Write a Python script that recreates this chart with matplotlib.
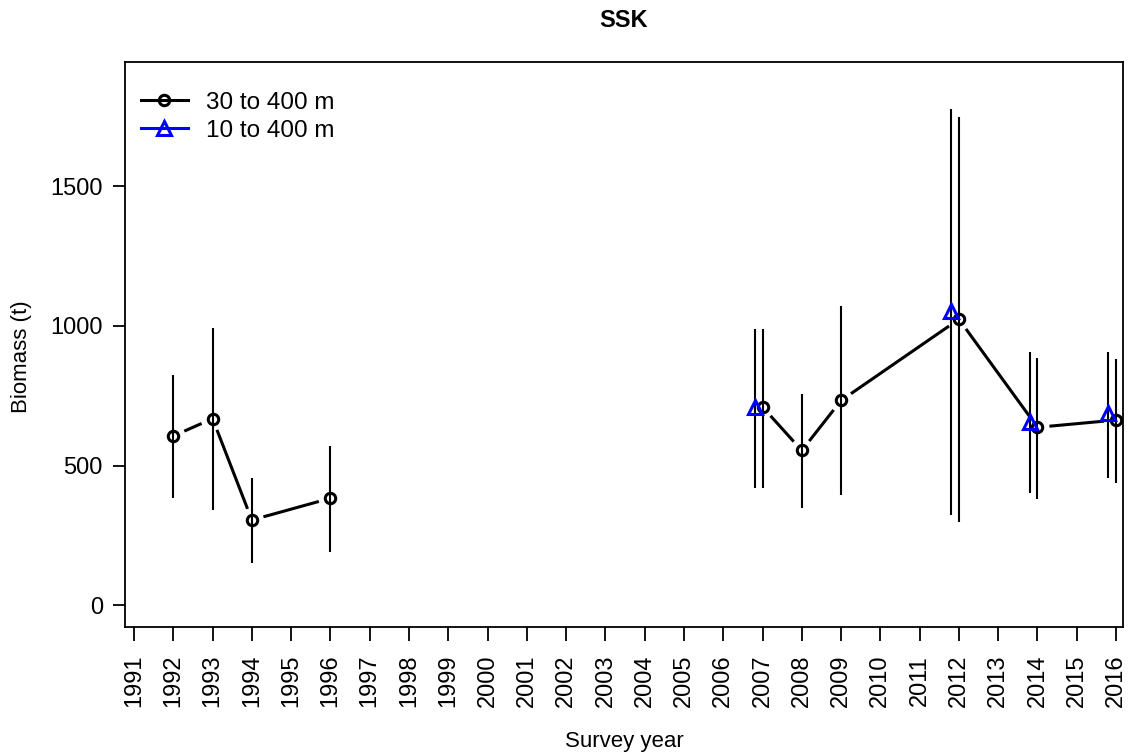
import numpy as np
import matplotlib.pyplot as plt
from matplotlib.lines import Line2D

plt.rcParams['font.family'] = ['Liberation Sans', 'DejaVu Sans']

# survey biomass, 30 to 400 m (NaN = break in the series, no surveys 1997-2006)
years = [1992, 1993, 1994, 1996, 2000, 2007, 2008, 2009, 2012, 2014, 2016]
bio_30 = [606, 668, 305, 383, np.nan, 710, 554, 733, 1024, 637, 663]
lo_30 = [385, 341, 150, 192, np.nan, 421, 347, 394, 297, 382, 437]
hi_30 = [826, 994, 457, 570, np.nan, 990, 755, 1073, 1747, 886, 883]

# 10 to 400 m
years_10 = [2007, 2012, 2014, 2016]
bio_10 = [710, 1055, 657, 687]
lo_10 = [421, 323, 401, 455]
hi_10 = [990, 1777, 907, 907]

xticks = list(range(1991, 2017))
yticks = [0, 500, 1000, 1500]
offset = -0.2

W, H = 1128, 755
fig = plt.figure(figsize=(W / 100, H / 100), dpi=100)
ax = fig.add_axes([125 / W, 1 - 627 / H, (1122.7 - 125) / W, (627 - 62) / H])
ax.set_xlim(1990.77, 2016.17)
ax.set_ylim(-78, 1945)


def gapped_line(ax, x, y, gap, **kw):
    # R type="b": segments stop short of the points
    pts = ax.transData.transform(np.column_stack([x, y]))
    inv = ax.transData.inverted()
    for i in range(len(pts) - 1):
        p0, p1 = pts[i], pts[i + 1]
        if np.isnan(p0).any() or np.isnan(p1).any():
            continue
        d = p1 - p0
        L = np.hypot(*d)
        if L <= 2 * gap:
            continue
        u = d / L
        a = inv.transform(p0 + u * gap)
        b = inv.transform(p1 - u * gap)
        ax.plot([a[0], b[0]], [a[1], b[1]], color='black', **kw)


x10 = np.array(years_10) + offset
ax.vlines(years, lo_30, hi_30, color='black', lw=1.5)
ax.vlines(x10, lo_10, hi_10, color='black', lw=1.5)
gapped_line(ax, years, bio_30, 12, lw=2.2, solid_capstyle='butt')
ax.plot(years, bio_30, ls='none', marker='o', ms=7.5, mfc='none', mec='black', mew=2.2)
ax.plot(x10, bio_10, ls='none', marker='^', ms=10.5, mfc='none', mec='#0000ff', mew=2.2)

ax.set_xticks(xticks)
ax.set_xticklabels([str(y) for y in xticks], rotation=90, fontsize=17)
ax.set_yticks(yticks)
ax.set_yticklabels([str(v) for v in yticks], fontsize=17)
ax.tick_params(axis='x', length=10, width=1.3, pad=10)
ax.tick_params(axis='y', length=9, width=1.3, pad=7)
for s in ax.spines.values():
    s.set_linewidth(1.3)

handles = [
    Line2D([], [], color='black', lw=2.2, marker='o', ms=7.5, mfc='none', mew=2.2),
    Line2D([], [], color='#0000ff', lw=2.2, marker='^', ms=10.5, mfc='none', mew=2.2),
]
ax.legend(handles, ['30 to 400 m', '10 to 400 m'], loc='upper left', frameon=False,
          fontsize=17.5, handlelength=1.95, handletextpad=0.75, labelspacing=0.25,
          borderaxespad=0, bbox_to_anchor=(0.006, 0.965))

fig.text(624 / W, 1 - 20.5 / H, 'SSK', ha='center', va='center', fontsize=17, fontweight='bold')
fig.text(624.7 / W, 1 - 741.7 / H, 'Survey year', ha='center', va='center', fontsize=16)
fig.text(22 / W, 1 - 357 / H, 'Biomass (t)', ha='center', va='center', rotation=90, fontsize=16)

fig.savefig('out.png', dpi=100)
